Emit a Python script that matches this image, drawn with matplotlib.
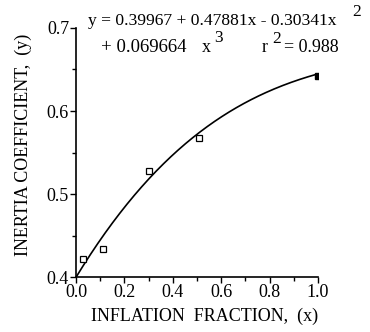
import matplotlib as mpl
mpl.use("Agg")
import matplotlib.pyplot as plt
import numpy as np
from matplotlib.ticker import MultipleLocator, FormatStrFormatter

# measured points
x_pts = [0.03, 0.11, 0.30, 0.51, 1.0]
y_pts = [0.422, 0.434, 0.528, 0.567, 0.642]

# cubic fit coefficients (highest power first), from the equation on the chart
fit_coef = [0.069664, -0.30341, 0.47881, 0.39967]

plt.rcParams['font.family'] = ['Liberation Serif', 'DejaVu Serif']

fig = plt.figure(figsize=(3.7, 3.32), dpi=100)
ax = fig.add_axes([76/370, 1 - 277/332, 242/370, 249/332])

xs = np.linspace(0, 1, 200)
ax.plot(xs, np.polyval(fit_coef, xs), color='k', lw=1.2)
ax.plot(x_pts[:-1], y_pts[:-1], ls='none', marker='s', ms=4, mfc='white', mec='k', mew=0.9)
ax.plot(x_pts[-1:], y_pts[-1:], ls='none', marker='s', ms=4.5, mfc='k', mec='k')

ax.set_xlim(0, 1.0)
ax.set_ylim(0.4, 0.7)
ax.xaxis.set_major_locator(MultipleLocator(0.2))
ax.xaxis.set_minor_locator(MultipleLocator(0.1))
ax.yaxis.set_major_locator(MultipleLocator(0.1))
ax.yaxis.set_minor_locator(MultipleLocator(0.05))
ax.xaxis.set_major_formatter(FormatStrFormatter('%.1f'))
ax.yaxis.set_major_formatter(FormatStrFormatter('%.1f'))
ax.tick_params(which='major', length=4, width=1, labelsize=13, direction='out', pad=1)
ax.tick_params(which='minor', length=3, width=1, direction='out')
for s in ['top', 'right']:
    ax.spines[s].set_visible(False)
for s in ['left', 'bottom']:
    ax.spines[s].set_linewidth(1.2)

ax.set_xlabel('INFLATION  FRACTION,  (x)', fontsize=13)
ax.xaxis.set_label_coords(0.533, -0.125)
ax.set_ylabel('INERTIA COEFFICIENT,  (y)', fontsize=13)
ax.yaxis.set_label_coords(-0.18, 0.53)

# equation text, in pixel positions of the figure
def ftxt(px, py, s, size=13):
    fig.text(px/370, 1 - py/332, s, fontsize=size, ha='left', va='center')

ftxt(88, 21, 'y = 0.39967 + 0.47881x - 0.30341x', 12.6)
ftxt(352, 12, '2', 12.5)
ftxt(101, 47, '+ 0.069664', 13.5)
ftxt(202, 47, 'x')
ftxt(214, 38, '3', 12.5)
ftxt(262, 47, 'r')
ftxt(272, 39, '2', 12.5)
ftxt(284, 47, '= 0.988')

fig.savefig('out.png', dpi=100)
